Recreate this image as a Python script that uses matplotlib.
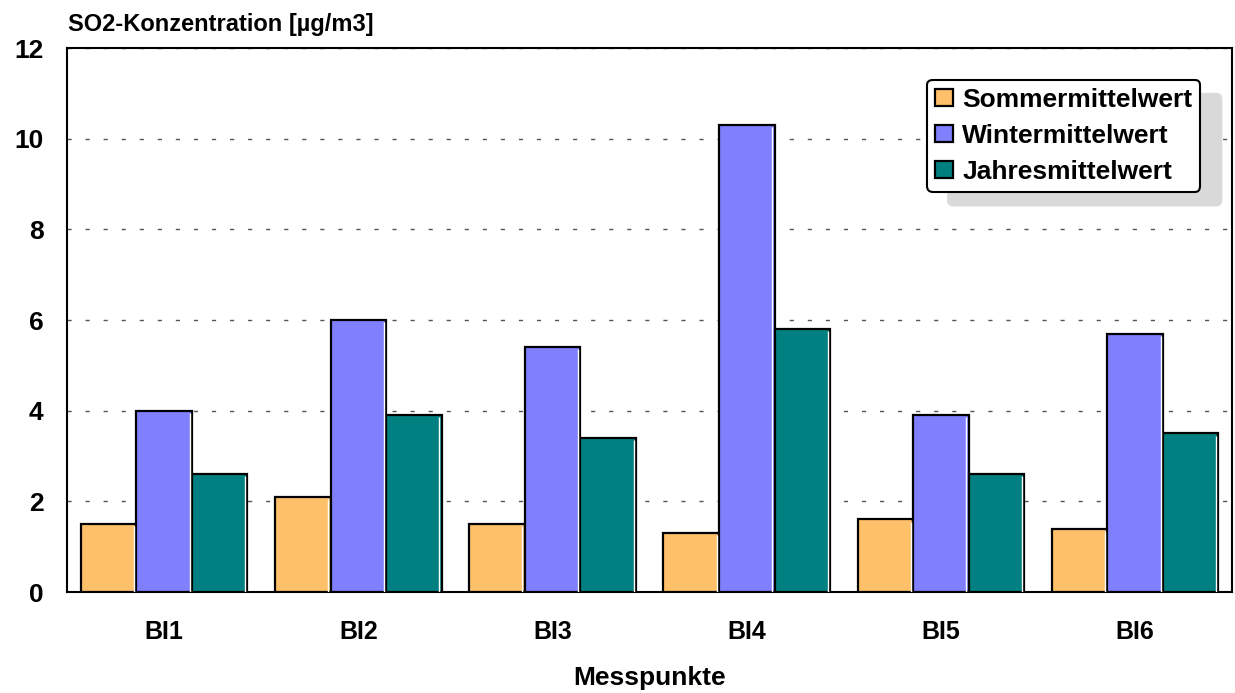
import matplotlib.pyplot as plt
import numpy as np

plt.rcParams['font.family'] = ['Liberation Sans', 'DejaVu Sans']
plt.rcParams['font.weight'] = 'bold'

messpunkte = ['BI1', 'BI2', 'BI3', 'BI4', 'BI5', 'BI6']
sommer = [1.5, 2.1, 1.5, 1.3, 1.6, 1.4]
winter = [4.0, 6.0, 5.4, 10.3, 3.9, 5.7]
jahr = [2.6, 3.9, 3.4, 5.8, 2.6, 3.5]
serien = ['Sommermittelwert', 'Wintermittelwert', 'Jahresmittelwert']
farben = ['#FFC06A', '#8080FF', '#008080']

fig = plt.figure(figsize=(12.35, 6.93), dpi=100)
ax = fig.add_axes([0.0543, 0.1457, 0.9435, 0.785])

x = np.arange(len(messpunkte))
w = 0.286
for i, (werte, name, farbe) in enumerate(zip([sommer, winter, jahr], serien, farben)):
    pos = x + (i - 1) * w
    ax.bar(pos, werte, width=w, color=farbe, edgecolor='black', linewidth=1.6,
           label=name, zorder=3)
    # thin highlight on the right inner edge of each bar
    ax.vlines(pos + w / 2 - 0.012, 0, np.array(werte) - 0.05, color='white',
              linewidth=1, zorder=4)

ax.set_xlim(-0.5, 5.5)
ax.set_ylim(0, 12)
ax.set_yticks(range(0, 13, 2))
ax.set_xticks(x)
ax.set_xticklabels(messpunkte)
ax.tick_params(axis='both', length=0)
ax.tick_params(axis='y', pad=17, labelsize=19)
ax.tick_params(axis='x', pad=20, labelsize=18)
for s in ax.spines.values():
    s.set_linewidth(1.5)
ax.yaxis.grid(True, linestyle=(0, (3, 10)), color='#555555', linewidth=1, zorder=0)

ax.set_xlabel('Messpunkte', fontsize=19, fontweight='bold', labelpad=16)
fig.text(68 / 1235, 1 - 36 / 693, 'SO2-Konzentration [µg/m3]', fontsize=17,
         fontweight='bold', ha='left', va='bottom')

leg = ax.legend(loc='upper right', bbox_to_anchor=(0.972, 0.8846),
                bbox_transform=fig.transFigure, borderaxespad=0, fontsize=19,
                fancybox=True, framealpha=1, edgecolor='black',
                handlelength=0.68, handleheight=0.6, handletextpad=0.35,
                labelspacing=0.45, borderpad=0.3,
                shadow={'ox': 15, 'oy': -10, 'facecolor': '#d9d9d9',
                        'edgecolor': '#d9d9d9', 'alpha': 1})
leg.get_frame().set_linewidth(1.5)
leg.set_zorder(5)

fig.savefig('out.png', dpi=100)
